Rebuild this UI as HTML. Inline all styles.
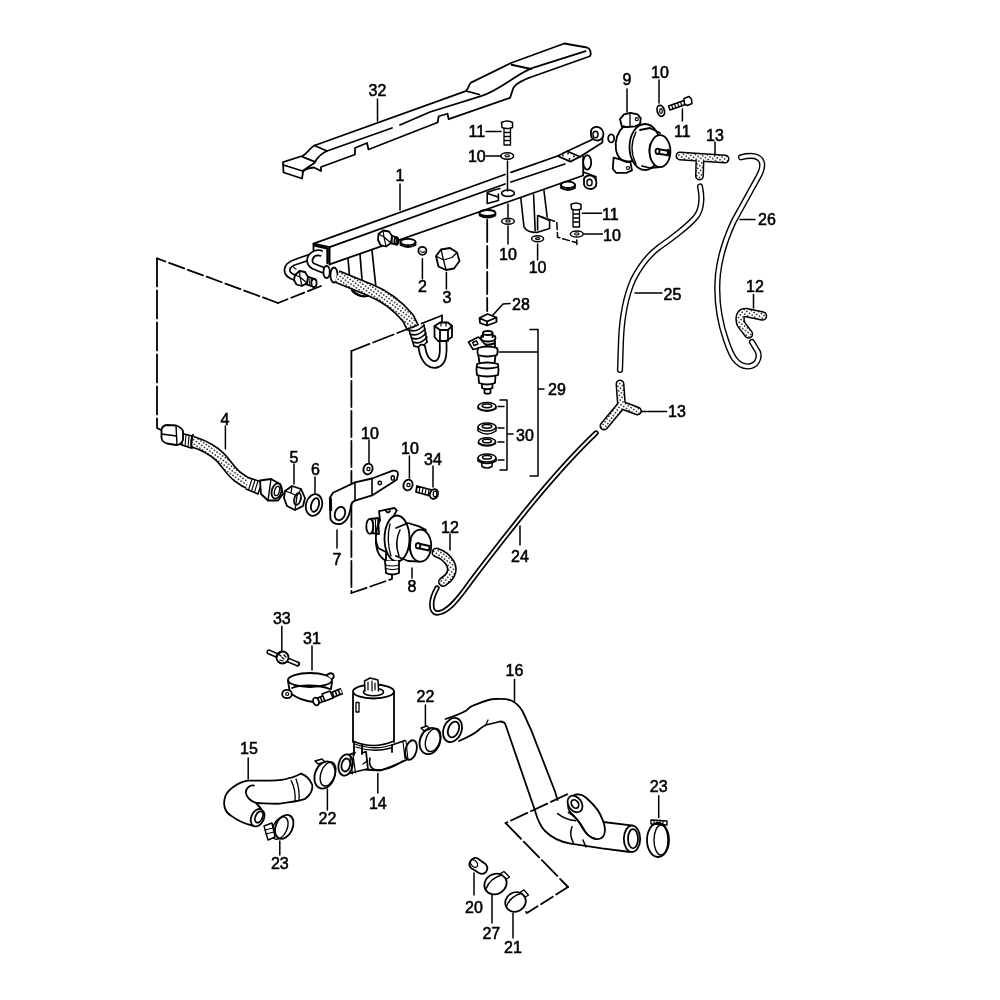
<!DOCTYPE html>
<html><head><meta charset="utf-8"><style>
html,body{margin:0;padding:0;background:#fff;width:1000px;height:1000px;overflow:hidden}
svg{display:block}
</style></head><body>
<svg width="1000" height="1000" viewBox="0 0 1000 1000">
<g fill="none" stroke="#000" stroke-width="1.5" stroke-linejoin="round" stroke-linecap="round">

<line x1="377.5" y1="99" x2="377.5" y2="121"/>
<line x1="400" y1="184" x2="400" y2="210"/>
<line x1="486" y1="131.5" x2="501" y2="131.5"/>
<line x1="486" y1="156" x2="501" y2="156"/>
<line x1="508" y1="204" x2="508" y2="217"/>
<line x1="508" y1="226" x2="508" y2="244"/>
<line x1="537.6" y1="244" x2="537.6" y2="260"/>
<line x1="582.4" y1="213.2" x2="601.6" y2="213.2"/>
<line x1="584" y1="234" x2="602.4" y2="234"/>
<line x1="422.4" y1="258.8" x2="422.4" y2="278.8"/>
<line x1="446.4" y1="272.4" x2="446.4" y2="289"/>
<line x1="627" y1="89" x2="627" y2="112"/>
<line x1="659" y1="80" x2="659" y2="103"/>
<line x1="682.4" y1="109" x2="682.4" y2="121"/>
<line x1="715" y1="142" x2="715" y2="154"/>
<line x1="740" y1="219.5" x2="755" y2="219.5"/>
<line x1="635" y1="293" x2="662" y2="293"/>
<line x1="753.5" y1="294.5" x2="753.5" y2="308"/>
<line x1="225.4" y1="426" x2="225.4" y2="449"/>
<line x1="294" y1="464" x2="294" y2="484"/>
<line x1="315" y1="477" x2="315" y2="493"/>
<line x1="369" y1="440" x2="369" y2="463"/>
<line x1="409.4" y1="456" x2="409.4" y2="478"/>
<line x1="433" y1="466" x2="433" y2="487"/>
<line x1="337" y1="530" x2="337" y2="548"/>
<line x1="412" y1="568" x2="412" y2="578"/>
<line x1="450" y1="534" x2="450" y2="550"/>
<line x1="520" y1="526" x2="520" y2="545"/>
<line x1="281.8" y1="626.6" x2="281.8" y2="650.4"/>
<line x1="312" y1="646" x2="312" y2="670"/>
<line x1="514.5" y1="679.5" x2="514.5" y2="701"/>
<line x1="425.4" y1="705" x2="425.4" y2="726"/>
<line x1="248.2" y1="758" x2="248.2" y2="779"/>
<line x1="377.8" y1="773.6" x2="377.8" y2="793"/>
<line x1="327.4" y1="789" x2="327.4" y2="810"/>
<line x1="658.7" y1="795.7" x2="658.7" y2="817.4"/>
<line x1="279.8" y1="841" x2="279.8" y2="855"/>
<line x1="474" y1="873" x2="474" y2="895"/>
<line x1="492" y1="895" x2="492" y2="923"/>
<line x1="513" y1="913.5" x2="513" y2="938"/>
<line x1="639.5" y1="411.5" x2="666.5" y2="411.5"/>
</g>
<defs>
<pattern id="dots" width="3.3" height="3.3" patternUnits="userSpaceOnUse" patternTransform="rotate(35)">
<rect width="3.3" height="3.3" fill="#fff"/><circle cx="1.65" cy="1.65" r="0.85" fill="#111"/>
</pattern>
</defs>
<g fill="none" stroke="#000" stroke-width="1.8" stroke-linejoin="round" stroke-linecap="round">
<!-- ===== 32 cover ===== -->
<path d="M283,162.2 L302,156 C306,154.5 310,148 314.5,145.5 L465.7,91.1 C469,89 468,85 471,82.6 L511,63 L564.3,43.5 L587,47.5 Q591,49 590.7,54.6 L589.8,56.25 L537,75 C525,79 515,83 513,89 L510,97.9 L448.7,119.2 L447.5,113.75 L438.75,116.25 L437.5,122.5 L368.5,149.5 L367,143 L355,148 L355,154.5 L321,167 L321,171 L314,167.5 C309,168 304,169.5 303,172 L302,178.5 L283.5,172.5 Z"/>
<path d="M283.5,165 L302.5,171 L315,162.5"/>
<path d="M302,156.6 L315,161.8 C318,157 322,153 327,151 L392,128 M400,125 L430,112 L481,96.2 C500,90 515,75 532,68.2 L585.6,51.2"/>
<path d="M314.5,145.5 L327,151 M466.5,91.1 L479.3,94.5 M511.6,64.75 L531,69"/>
<!-- ===== 1 rail ===== -->
<path d="M313.5,243.6 L329.6,247.2 L329.6,264.4 M313.5,243.6 L313.5,254"/>
<path d="M313.5,243.6 L505,174.5 M511,172.4 L557.6,156"/>
<path d="M557.6,156 L567.2,151.2 L580,156.8 L570.4,161.6 Z"/>
<circle cx="563" cy="155.5" r="0.9" fill="#000" stroke="none"/><circle cx="568" cy="153.5" r="0.9" fill="#000" stroke="none"/><circle cx="574" cy="156.5" r="0.9" fill="#000" stroke="none"/><circle cx="569.5" cy="159" r="0.9" fill="#000" stroke="none"/>
<path d="M329.6,247.2 L505,184 M511,182 L564.8,164"/>
<path d="M329.6,264.4 L583.2,175.5 M583.2,156.5 L583.2,175.5"/>
<path d="M327.6,249 L327.6,263" stroke-width="2.6"/>
<path d="M315,245.5 L327,248.3" stroke-width="2.4"/>
<path d="M567.2,151.2 L592.8,139.2 M580,156.8 L602.4,142.4 L602.5,137"/>
<path d="M591,130.5 Q593,126.5 598,127 Q603,128.5 603.5,134 Q603,139.5 598,140.5 Q592.5,140.5 591,136 Z" fill="#fff"/>
<ellipse cx="595.5" cy="134.5" rx="2.6" ry="3.2" stroke-width="1.4"/>
<ellipse cx="587.2" cy="162.4" rx="4" ry="7.2" fill="#fff"/>
<path d="M583.2,172 L596,176.8 L596,186" stroke-width="1.5"/>
<path d="M584,178.5 Q586,175 591,175.5 Q596,177 596.5,183 Q596,188.5 591,189 Q585.5,189 584,184.5 Z" fill="#fff"/>
<ellipse cx="589.5" cy="182.5" rx="2.6" ry="3.2" stroke-width="1.4"/>
<ellipse cx="568" cy="184.8" rx="7" ry="3.2"/><path d="M561,184.8 L561,188 Q568,192 575,188 L575,184.8"/>
<ellipse cx="408" cy="242" rx="7.5" ry="3.2"/><path d="M400.5,242 L400.5,245 Q408,249 415.5,245 L415.5,242"/>
<!-- fitting on rail -->
<path d="M390,235 L397,237.5 L397,244.5 L390,243" fill="#fff"/>
<ellipse cx="396.5" cy="241" rx="2" ry="3.6"/>
<path d="M392,235.5 L392,243.5 M394.5,236.5 L394.5,244" stroke-width="1.1"/>
<path d="M378.5,234 L383,230.5 L389,231.5 L392,236 L391,243 L386,246.5 L380.5,245 L378,240 Z" fill="#fff"/>
<path d="M383,230.5 L384,237 L378.5,234 M384,237 L391,243 M384,237 L386,246.5" stroke-width="1.2"/>
<!-- bracket under rail (left) -->
<path d="M348,258.5 L350,282 M360,254.5 L363,292 M372,250.5 L376,288" stroke-width="1.7"/>
<path d="M352,290 Q360,298 368,296 L370,290"/>
<!-- bracket plates right of center -->
<path d="M487.2,192.4 L487.2,203.6 L498.4,200.4 L498.4,194 M487.2,192.4 L494,190 L500,188.5 M487.5,193.5 L498.2,197" stroke-width="1.6"/>
<path d="M520.8,198 L524,226.8 Q527,232.5 536.8,232.4 L549.6,228.4 L549.6,220.4 M533.6,194.8 L535.2,230.5 M544,190.8 L547.2,217.2 M537.6,215.6 L549.6,220.4 M537.6,215.6 L537.6,230" stroke-width="1.6"/>
<ellipse cx="487.5" cy="213" rx="8" ry="3"/><path d="M479.5,213 L479.5,215.5 Q487.5,220 495.5,215.5 L495.5,213" stroke-width="1.5"/>
<!-- ===== bolts/washers on rail ===== -->
<path d="M502,127.5 L501.5,122.5 Q507,119.5 512.5,122.5 L512.5,127.5 Q507,129.5 502,127.5 Z" stroke-width="1.5"/>
<path d="M504,128.5 L504,145 L510.5,145 L510.5,128.5 M504,132.5 L510.5,132.5 M504,136.5 L510.5,136.5 M504,140.5 L510.5,140.5" stroke-width="1.3"/>
<ellipse cx="507.2" cy="156" rx="6.4" ry="3.2" stroke-width="1.5"/><ellipse cx="507.2" cy="155.8" rx="2.3" ry="1.1" stroke-width="1.1"/>
<path d="M507.5,161 L507.5,191" stroke-width="1.5"/>
<ellipse cx="508" cy="193.2" rx="6.4" ry="3.2" stroke-width="1.6"/>
<ellipse cx="508" cy="221.2" rx="6.4" ry="3" stroke-width="1.5"/><ellipse cx="508" cy="221" rx="2.3" ry="1.1" stroke-width="1.1"/>
<ellipse cx="537.6" cy="238.8" rx="6" ry="3" stroke-width="1.5"/><ellipse cx="537.6" cy="238.6" rx="2.2" ry="1" stroke-width="1.1"/>
<path d="M571.5,209 L571,204.5 Q576,201.5 581,204.5 L581,209 Q576,211 571.5,209 Z" stroke-width="1.5"/>
<path d="M573,210 L573,227 L579.5,227 L579.5,210 M573,214 L579.5,214 M573,218 L579.5,218 M573,222 L579.5,222" stroke-width="1.3"/>
<ellipse cx="576.8" cy="234" rx="6.4" ry="3.1" stroke-width="1.5"/><ellipse cx="576.8" cy="233.8" rx="2.3" ry="1.1" stroke-width="1.1"/>
<path d="M538.4,215.6 L556.8,222 L557.6,237.2 L576.8,242.8 M576.8,240 L576.8,244.5" stroke-dasharray="7 3" stroke-width="1.5"/>
<!-- part 2 & 3 -->
<circle cx="422.4" cy="250.8" r="4"/><path d="M420.5,251 Q422.5,253.5 424.5,251.5" stroke-width="1.1"/>
<path d="M436,256 L441,249.5 L450,248 L457,252.5 L459.5,261 L454,268.5 L446,270 L438.5,266.5 Z"/>
<path d="M436,256 L443.5,260 L452,257.5 L457,252.5 M443.5,260 L446,270 M441,249.5 L443.5,260" stroke-width="1.3"/>
</g>
<g fill="none" stroke="#000" stroke-width="1.8" stroke-linejoin="round" stroke-linecap="round">
<!-- ===== left-end fuel pipes ===== -->
<path d="M313,256 L297,261.5 C285,265 283,274 296,278" stroke-width="7" stroke-linecap="butt"/>
<path d="M313,256 L297,261.5 C285,265 283,274 296,278" stroke="#fff" stroke-width="3.6" stroke-linecap="butt"/>
<path d="M293,266.5 Q294,268 296,269" stroke-width="1.2"/>
<path d="M322,253.5 C311,250 306,262 313,266 L324,270.5" stroke-width="7" stroke-linecap="butt"/>
<path d="M322,253.5 C311,250 306,262 313,266 L324,270.5" stroke="#fff" stroke-width="3.6" stroke-linecap="butt"/>
<path d="M306,276 L315,279 L314,287 L305,284" fill="#fff"/>
<path d="M308,277 L307.5,284.5 M310,277.7 L309.5,285.3 M312,278.4 L311.5,286" stroke-width="1.1"/>
<ellipse cx="314" cy="283" rx="2.6" ry="4" fill="#fff"/>
<path d="M295,275 L299.5,271 L305,272 L308,277 L307,283 L302,286 L296.5,284.5 L294,280 Z" fill="#fff"/>
<path d="M299.5,271 L300,277 L295,275 M300,277 L307,283 M300,277 L302,286" stroke-width="1.2"/>
<ellipse cx="326.6" cy="272" rx="3.2" ry="6" fill="#fff"/>
<path d="M323.4,272 L324,268" stroke-width="1.1"/>
<ellipse cx="334" cy="275" rx="3.6" ry="7.5" fill="#fff"/>
<!-- ===== fuel hose ===== -->
<ellipse cx="360" cy="292" rx="8.5" ry="3.6" transform="rotate(20 360 292)"/>
<path d="M337,276.5 L370,290 C385,296 398,306 408,318 L413,328" stroke-width="13.5" stroke-linecap="butt"/>
<path d="M337,276.5 L370,290 C385,296 398,306 408,318 L413,328" stroke="url(#dots)" stroke-width="10.2" stroke-linecap="butt"/>
<path d="M409,330 Q417,333 424,325 M410,334 Q418,337 425,329 M411.5,338 Q419.5,341 426,333 M413,342 Q421,345 427,337 M414,346 Q421,349 427,342" stroke-width="1.6"/>
<path d="M409,330 L414,346 M424,325 L427,342" stroke-width="1.6"/>
<path d="M422,348 C424,362 432,366 437,364 C442,362 444,357 443,341" stroke-width="8.5"/>
<path d="M422,348 C424,362 432,366 437,364 C442,362 444,357 443,341" stroke="#fff" stroke-width="5"/>
<path d="M434.5,326 L440,322.5 L448,322.5 L452,326 L452,337 L446,341 L438,341 L434.5,337 Z" fill="#fff"/>
<path d="M434.5,326 L440,330 L448,330 L452,326 M440,330 L440,341 M448,330 L448,341"/>
<path d="M441,322 L441,326 M446,322 L446,326" stroke-width="1.2"/>
<!-- ===== dashed lines ===== -->
<path d="M321,286 L278,303" stroke-dasharray="14 4"/>
<path d="M278,303 L157,258.4" stroke-dasharray="16 4"/>
<path d="M157,258.4 L157,428 L161,430" stroke-dasharray="28 4"/>
<path d="M442,315.5 L442,321"/>
<path d="M442,315.5 L351.4,351" stroke-dasharray="22 4"/>
<path d="M351.4,351 L351.4,593" stroke-dasharray="26 4"/>
<path d="M351.4,593 L392,579 L392,572" stroke-dasharray="16 4"/>
<path d="M487.2,220 L487.2,311" stroke-dasharray="22 4"/>
<!-- ===== clip 28 ===== -->
<path d="M479.5,318 L487.5,314 L496.5,317.5 L496.5,322 L487,325.5 L480,323 Z M479.5,318 L487,321.5 L496.5,317.5 M487,321.5 L487,325.5"/>
<path d="M493,315 L503,304 L510,303.5" stroke-width="1.6"/>
<!-- ===== injector 29 ===== -->
<path d="M483,333 L483,337 M492.5,333 L492.5,337"/><ellipse cx="487.7" cy="333" rx="4.8" ry="2" fill="#fff"/>
<path d="M481,338 Q481,341.5 488,341.5 Q495.5,341.5 495.5,338 Q495.5,335.5 492.5,335.5 M483,335.5 Q481,335.5 481,338"/>
<path d="M480.5,341 L480.5,348 M495,341 L495,348"/>
<path d="M482,343.5 Q488,346 494,343.5" stroke-width="2.2"/>
<path d="M468.5,342 L478.5,337 L487,346.5 L473,349.5 Z" fill="#fff" stroke-width="1.6"/>
<path d="M472.5,342.5 L476.5,340.8 L478,344 L474,345.5 Z" stroke-width="1.4"/>
<path d="M478,348 Q477,352 478,355 Q487,358 497,355 Q498.5,351 497,348 Q487,345 478,348 Z" fill="#fff"/>
<path d="M478.5,356 L479.5,363 M495.5,356 L494.5,363"/>
<path d="M477,364 Q476,370 477,375 Q487,378 498,375 Q499,370 498,364 Q487,361 477,364 Z" fill="#fff"/>
<path d="M477,367 Q487,370 498,367"/>
<path d="M478.5,376 L479,383 Q487,386 495,383 L495.5,376"/>
<path d="M482,384 L482,388 Q487,390.5 492.5,388 L492.5,384"/>
<path d="M484.5,389 L484.5,393 Q487.5,394.5 490.5,393 L490.5,389"/>
<!-- brackets 29/30 -->
<path d="M530,329.5 L538,329.5 L538,476 L530,476 M499.5,352 L537.5,352 M538,389 L544,389" stroke-width="1.5"/>
<path d="M500,400 L507,400 L507,470 L500,470 M507,434 L513,434 M498,406.5 L504,406.5 M498,428 L504,428 M498,442 L504,442 M498,460 L504,460" stroke-width="1.5"/>
<!-- rings 30 -->
<g stroke-width="1.5">
<path d="M478,407 L478,408.5 Q487,414 496,408.5 L496,407"/><ellipse cx="487" cy="406.5" rx="9" ry="4" fill="#fff"/><ellipse cx="487" cy="405.8" rx="4.8" ry="1.9"/>
<path d="M478,427 L478,431 Q487,437 496,431 L496,427"/><ellipse cx="487" cy="427" rx="9" ry="4" fill="#fff"/><ellipse cx="487" cy="426.3" rx="4.8" ry="1.9"/>
<path d="M478.5,442 L478.5,443.5 Q487,448.5 495.5,443.5 L495.5,442"/><ellipse cx="487" cy="441.5" rx="8.5" ry="3.8" fill="#fff"/><ellipse cx="487" cy="441" rx="4.5" ry="1.8"/>
<path d="M481.5,462 L482,466.5 Q487,469.5 492,466.5 L492.5,462"/>
<path d="M478,458 L478,461 Q487,466 496,461 L496,458"/><ellipse cx="487" cy="458" rx="9" ry="4" fill="#fff"/><ellipse cx="487" cy="457.3" rx="4.5" ry="1.8"/>
</g>
</g>
<g fill="none" stroke="#000" stroke-width="1.8" stroke-linejoin="round" stroke-linecap="round">
<!-- ===== hose 4 ===== -->
<path d="M192,441.5 C200,444 212,449 220,457 C227,464 231,472 238,477 C243,481 247,483 251,484.5" stroke-width="12" stroke-linecap="butt"/>
<path d="M192,441.5 C200,444 212,449 220,457 C227,464 231,472 238,477 C243,481 247,483 251,484.5" stroke="url(#dots)" stroke-width="8.8" stroke-linecap="butt"/>
<path d="M180,433 L192,436 L191,448 L179,444" fill="#fff" stroke-width="1.5"/>
<path d="M183,434 L182,445 M186,435 L185,446 M189,436 L188,447" stroke-width="1.1"/>
<path d="M193,435 Q190,441 192,448" stroke-width="2"/>
<path d="M161.5,430 Q162,425.5 167,425 L176,425.5 Q181,427 183,431 L183,440 Q181,445 176,445 L167,443.5 Q162,442 161.5,438 Z" fill="#fff"/>
<path d="M176,425.5 L177,445 M161.5,434 L176.5,436" stroke-width="1.4"/>
<path d="M249,478 L262,482 L258,494 L246,489" fill="#fff" stroke-width="1.5"/>
<path d="M252,479 L248.5,490 M255,480 L251.5,491 M258,481 L254.5,492" stroke-width="1.1"/>
<path d="M260,480.5 L271,479 L280,484 L283,494 L278,500.5 L268,500.5 L261,494 Z" fill="#fff"/>
<path d="M271,479 L268,500.5" stroke-width="1.4"/>
<ellipse cx="276.6" cy="491" rx="4.8" ry="7.8" transform="rotate(15 276.6 491)"/>
<ellipse cx="277" cy="491" rx="2.4" ry="4.8" transform="rotate(15 277 491)" stroke-width="1.3"/>
<!-- nut 5, washer 6 -->
<path d="M285,491 L292,486 L301,489 L305,498 L303,506 L295,510 L287,506 L284,498 Z"/>
<path d="M292,486 L291,493 L285,491 M291,493 L297,496 L301,489 M297,496 L295,510" stroke-width="1.3"/>
<ellipse cx="297.5" cy="499" rx="3.2" ry="6" transform="rotate(15 297.5 499)"/>
<ellipse cx="314" cy="505" rx="8" ry="11" transform="rotate(15 314 505)"/>
<ellipse cx="315" cy="505" rx="3.8" ry="7" transform="rotate(15 315 505)"/>
<!-- ===== bracket 7 ===== -->
<path d="M329.8,498 L333,492.8 L355,482.4 L372,478.5 L392.8,470.7 Q398,470 398,474.6 L396.7,479.8 L372,495.4 L355,500.6 Q351.5,502 351.2,505 L350,511 Q348,521 341,524 Q334,525 331,520 L330.4,518.8 Z" fill="#fff"/>
<path d="M355,482.4 L355,500.6 M372,478.5 L372,495.4" stroke-width="1.6"/>
<circle cx="379.8" cy="483" r="1.7" stroke-width="1.4"/><ellipse cx="392.8" cy="477.9" rx="1.6" ry="2.2" stroke-width="1.4"/>
<ellipse cx="340" cy="513.6" rx="5" ry="6.8" transform="rotate(20 340 513.6)"/>
<path d="M330.5,499 L330.8,510" stroke-width="2.8"/>
<!-- washers 10 and bolt 34 -->
<ellipse cx="368" cy="469" rx="4.5" ry="5.5" transform="rotate(20 368 469)"/><circle cx="368.5" cy="469" r="1.6" stroke-width="1.2"/>
<ellipse cx="408" cy="485" rx="4.5" ry="5.5" transform="rotate(20 408 485)"/><circle cx="408.5" cy="485" r="1.6" stroke-width="1.2"/>
<path d="M417,486 L432,490 L431,496 L416,492 Z" fill="#fff"/>
<path d="M420,487 L419,493 M423,488 L422,494 M426,489 L425,495 M429,490 L428,496" stroke-width="1.2"/>
<ellipse cx="434" cy="494" rx="4" ry="5" transform="rotate(20 434 494)" fill="#fff"/><ellipse cx="435" cy="494" rx="1.8" ry="2.8" stroke-width="1.2"/>
<!-- ===== regulator 8 ===== -->
<path d="M370,519 L378,518 L379,534 L371,533" fill="#fff"/>
<ellipse cx="369.8" cy="526.4" rx="3.5" ry="7.5" fill="#fff"/>
<path d="M373,520 L373,533 M375.5,519 L375.5,534" stroke-width="1.1"/>
<path d="M380,520 L379,511.2 L394.4,508 L396.8,510.4 L393.6,516 M386,511 Q388,514 390,511" />
<path d="M380,520 Q375,530 376,544 Q377,556 386,561 L396,562"/>
<path d="M378,548 L386,552 L386,560 M378,548 L376,541"/>
<ellipse cx="397" cy="538.5" rx="12.5" ry="23" fill="#fff"/>
<path d="M390,524 Q386,540 391,556" stroke-width="1.3"/>
<path d="M396,528 L408,523 L419,526.4 L426,530 M396,556 L408,561 L420,561.6"/>
<path d="M400,530 Q394,542 399,556" stroke-width="1.5"/>
<ellipse cx="420.4" cy="545.6" rx="10.8" ry="16" fill="#fff"/>
<path d="M411,540 Q409,548 412,556" stroke-width="1.3"/>
<path d="M418,543.5 L429.5,546 L429,550.5 L417.5,548 Z" fill="#fff"/><ellipse cx="418" cy="545.8" rx="2.3" ry="2.6" fill="#fff"/>
<path d="M385,561 L386,573 Q392,576 399,573 L399,561" fill="#fff"/>
<path d="M386,565 Q392,567 399,565 M386,568.5 Q392,570.5 399,568.5" stroke-width="1.1"/>
<!-- ===== hose 12 lower ===== -->
<path d="M436.5,552.5 C441,554 447,558 450,563 C453,568 452,574 448,578 L443,582" stroke-width="10"/>
<path d="M436.5,552.5 C441,554 447,558 450,563 C453,568 452,574 448,578 L443,582" stroke="url(#dots)" stroke-width="6.8"/>
<!-- ===== hose 24 ===== -->
<path d="M596,433 C572,456 545,487 524,513 C505,537 485,562 466,588 C455,603 446,613 437,613 C430,612 430,600 437,588" stroke-width="5.4"/>
<path d="M596,433 C572,456 545,487 524,513 C505,537 485,562 466,588 C455,603 446,613 437,613 C430,612 430,600 437,588" stroke="#fff" stroke-width="2"/>
<!-- ===== T 13 lower ===== -->
<path d="M620,384 L621.5,405 L637.5,411 M621.5,405 L604,426" stroke-width="9"/>
<path d="M620,384 L621.5,405 L637.5,411 M621.5,405 L604,426" stroke="url(#dots)" stroke-width="6"/>
<!-- ===== hose 25 ===== -->
<path d="M700,186.5 C703,200 701,212 694.6,218.4 C688,226 670,240 659.4,247 C650,254 640,266 633,280 C626,296 622,316 621,340 L620,370" stroke-width="6.2"/>
<path d="M700,186.5 C703,200 701,212 694.6,218.4 C688,226 670,240 659.4,247 C650,254 640,266 633,280 C626,296 622,316 621,340 L620,370" stroke="#fff" stroke-width="3.4"/>
<!-- ===== hose 26 ===== -->
<path d="M741,157.3 C750,155 760,155 762,162.8 C763,168 761,172 758.8,176 L733.6,221.6 C726,238 720,255 718,274 C716,295 719,320 726,340 C731,355 736,366 748,366.5 C757,366 760,358 758,352 L752,342" stroke-width="6.2"/>
<path d="M741,157.3 C750,155 760,155 762,162.8 C763,168 761,172 758.8,176 L733.6,221.6 C726,238 720,255 718,274 C716,295 719,320 726,340 C731,355 736,366 748,366.5 C757,366 760,358 758,352 L752,342" stroke="#fff" stroke-width="3.4"/>
<!-- ===== elbow 12 upper ===== -->
<path d="M762.5,316 L746,312.5 C740,312 739,318 741,324 L748.5,334" stroke-width="9.5"/>
<path d="M762.5,316 L746,312.5 C740,312 739,318 741,324 L748.5,334" stroke="url(#dots)" stroke-width="6.5"/>
<!-- ===== T 13 upper ===== -->
<path d="M680,156 L725,159 M700,158 L699.5,176" stroke-width="9"/>
<path d="M680,156 L725,159 M700,158 L699.5,176" stroke="url(#dots)" stroke-width="6"/>
<!-- ===== regulator 9 ===== -->
<path d="M620,119.2 L624,114.4 L630.4,112.8 L637.6,114.4 L640.8,118.4 L640,124 L635.2,126.4 L628,127 L622,127 Z" fill="#fff"/>
<circle cx="636.8" cy="119.2" r="1.5" stroke-width="1.2"/>
<path d="M630,113 L630,126" stroke-width="1.3"/>
<path d="M613.6,157.6 L612.8,168.8 L616,172.8 L626.4,172.8 L632,170.4 L630.4,162.4 Z" fill="#fff"/>
<circle cx="628" cy="168" r="1.5" stroke-width="1.2"/>
<ellipse cx="611.2" cy="138.4" rx="3" ry="4" fill="#fff"/>
<path d="M624,126 Q614,135 616,150 Q618,160 626,162 L640,160"/>
<ellipse cx="645" cy="147" rx="15.5" ry="23" fill="#fff"/>
<path d="M636,132 Q628,148 636,164" stroke-width="1.3"/>
<path d="M640,130 L650,128 L660,133 M642,166 L650,168 L660,167"/>
<ellipse cx="660" cy="151.2" rx="10.4" ry="16" fill="#fff"/>
<path d="M650,144 Q648,152 651,160" stroke-width="1.3"/>
<path d="M657,149 L669.6,151 L669.6,155.5 L657,153.5 Z" fill="#fff"/><ellipse cx="657.5" cy="151.2" rx="2" ry="2.6" fill="#fff"/>
<path d="M668,150 L668,155" stroke-width="2.4"/>
<ellipse cx="660.8" cy="110.8" rx="3.6" ry="5.6" transform="rotate(-15 660.8 110.8)"/><ellipse cx="661" cy="111" rx="1.3" ry="2.4" stroke-width="1.1"/>
<path d="M668.5,106 L684,100.5 L685.5,104.5 L670,110 Z" fill="#fff" stroke-width="1.5"/>
<path d="M671.5,105 L673,109 M674.5,104 L676,108 M677.5,103 L679,107 M680.5,102 L682,106" stroke-width="1.1"/>
<path d="M684,98.5 L689,96.5 L691.5,99 L692,103.5 L687.5,105.5 L684.5,104 Z" fill="#fff" stroke-width="1.5"/>
</g>
<g fill="none" stroke="#000" stroke-width="1.8" stroke-linejoin="round" stroke-linecap="round">
<!-- ===== 33 screw ===== -->
<path d="M269,652 L297.5,664" stroke-width="5.2" stroke-dasharray="2.2 1"/>
<path d="M269,652 L297.5,664" stroke="#fff" stroke-width="2.2" stroke-dasharray="1.6 1.6"/>
<circle cx="282.5" cy="657.5" r="6" fill="#fff"/>
<path d="M279,654.5 L281,656 M284,655 L286,657 M280,660 L283,661 M282,657.5 L284,659" stroke-width="1.3"/>
<path d="M277,657 Q278,653 282,652" stroke-width="1"/>
<!-- ===== 31 clamp ===== -->
<ellipse cx="310" cy="680" rx="22" ry="7"/>
<path d="M288,681 L290,693 M332,682 L331,689"/>
<path d="M292,688 C300,684.5 318,684.5 330,689"/>
<path d="M290,693 C298,699 308,701.5 314,702"/>
<path d="M327,675 Q330,672 333,674 Q335,677 332,679" fill="#fff"/>
<ellipse cx="287" cy="694" rx="4.8" ry="4.2" fill="#fff"/><circle cx="287.2" cy="694" r="1.5" stroke-width="1.2"/>
<path d="M316,701.5 L342,691" stroke-width="6.8" stroke-linecap="butt"/>
<path d="M316,701.5 L342,691" stroke="#fff" stroke-width="3.6" stroke-dasharray="1.7 1.5" stroke-linecap="butt"/>
<path d="M322,694 L330,691 L333,698 L325,701 Z" fill="#fff" stroke-width="1.5"/>
<ellipse cx="316" cy="701.5" rx="2.8" ry="4" fill="#fff" transform="rotate(-20 316 701.5)"/>
<!-- ===== 14 idle valve ===== -->
<path d="M353,694 L353,742 M394,692 L394,742"/>
<ellipse cx="373.5" cy="691.5" rx="20.5" ry="7" fill="#fff"/>
<ellipse cx="373.5" cy="692" rx="10" ry="3.8" stroke-width="1.5"/>
<path d="M365,691 L364.5,681 L370,678 L378,680 L378.5,691" stroke-width="1.5" fill="#fff"/>
<path d="M368,682 L368,690 M372,681 L372,691 M375,683 L375,690" stroke-width="1.2"/>
<path d="M356,702.5 L359,702.5 L359,712 L356,712 Z" stroke-width="1.3"/>
<path d="M353,741 Q373,750 394,741" stroke-width="1.6"/>
<path d="M355,744 Q373,751 392,745 M356,747 Q373,753 391,748" stroke-width="1.3"/>
<path d="M354,743 L354,755 M362,745 L362,754 M392,745 L392,752"/>
<path d="M344,756.5 L355,752.6 M362,753 L366,751.5 L368,769.5"/>
<path d="M347,774 L365,769.5 L380.5,770.5 Q397,765 414,756"/>
<path d="M392,745 L405,740.5"/>
<path d="M370,758 Q368,768 376,770 Q388,771 403,761" stroke-width="1.6"/>
<path d="M363,764 L367,761" stroke-width="1.3"/>
<ellipse cx="345.6" cy="765" rx="7" ry="10.8" fill="#fff" transform="rotate(12 345.6 765)"/>
<ellipse cx="345.8" cy="765" rx="4.2" ry="6.6" transform="rotate(12 345.8 765)"/>
<path d="M350,755.5 L352.5,774 M353,754.5 L355.5,773" stroke-width="1.2"/>
<ellipse cx="411" cy="750" rx="5.5" ry="10" fill="#fff" transform="rotate(15 411 750)"/>
<path d="M403,742 L405,759 M406,741 L408,760" stroke-width="1.1"/>
<!-- ===== 22 clamps ===== -->
<ellipse cx="430" cy="741" rx="10" ry="13.5" transform="rotate(20 430 741)"/>
<ellipse cx="433" cy="740" rx="7" ry="12" transform="rotate(20 433 740)" stroke-width="1.4"/>
<path d="M421,728 L427,726 L430,729 L424,731 Z" stroke-width="1.4"/>
<ellipse cx="324.8" cy="775" rx="9.8" ry="14" transform="rotate(20 324.8 775)"/>
<ellipse cx="328" cy="774" rx="7" ry="12.5" transform="rotate(20 328 774)" stroke-width="1.4"/>
<path d="M315,761 L322,759 L325,762 L318,764 Z" stroke-width="1.4"/>
<!-- ===== 15 hose ===== -->
<path d="M301,773.6 C305,775 310,779 312.2,784.8 C313,790 310,795 305.2,798.8 C300,801 290,802 280,803.7 C270,804 262,803 256.2,803 C248,800 243,793 247.8,787.6 C250,785 252,785 254,785.5"/>
<path d="M301,773.6 C296,776 292,778 289.8,777.8 C283,781 275,780.6 266,780.6 L247.8,780.6 C238,782 228,790 225.4,796 C222,806 226,813 231,815.6 C238,821 245,824 254,826"/>
<path d="M291.2,780.6 Q296,790 295,801.5 M296,779 Q300,790 299,800.5" stroke-width="1.3"/>
<path d="M256,803 C258,805 260,807 261,809"/>
<ellipse cx="257.6" cy="817.7" rx="6.3" ry="9.1" fill="#fff" transform="rotate(25 257.6 817.7)"/>
<ellipse cx="259" cy="817" rx="3.5" ry="6" transform="rotate(25 259 817)"/>
<!-- ===== 23 clamp left ===== -->
<ellipse cx="284.2" cy="826.8" rx="8.4" ry="12.6" transform="rotate(25 284.2 826.8)"/>
<ellipse cx="280" cy="828" rx="7" ry="12" transform="rotate(25 280 828)" stroke-width="1.4"/>
<path d="M264,826 L272,823 L275,837 L268,840 Z" fill="#fff" stroke-width="1.4"/>
<path d="M265,830 L273,828 M266,834 L274,832" stroke-width="1.1"/>
<!-- ===== 16 hose ===== -->
<path d="M445.5,719 C455,716 462,713 466.4,710.5 C469,708 470,707 472,706 C480,703 488,699 494.4,699 C502,698.5 508,699 511.2,700.5 C517,703 520,707 522.4,711 C526,718 528,724 530.8,729.2 L555.2,792 L557.5,800"/>
<path d="M459,741 C466,738 472,735 476.2,732 C480,729 483,726 486,725 L500,721.5 C503,721.5 505,723 505.6,725 L534.8,810 C537,818 540,826 545,831 C552,838 560,842 570.8,843.6 L602,848.4 L630,852"/>
<path d="M485,726 Q487,723 488,720" stroke-width="1.3"/>
<path d="M603.2,822 L633.2,825.6"/>
<ellipse cx="452.5" cy="730" rx="9" ry="12.5" fill="#fff" transform="rotate(22 452.5 730)"/>
<ellipse cx="453.5" cy="729.5" rx="5.2" ry="8.2" transform="rotate(22 453.5 729.5)"/>
<ellipse cx="632" cy="838.8" rx="8.2" ry="13.2" fill="#fff"/>
<ellipse cx="633" cy="838.8" rx="5" ry="9.6"/>
<path d="M557.6,813.6 Q566,820 575.6,820.8" stroke-width="1.5"/>
<path d="M572,826.8 Q569,835 573.2,842.4 M583,840 Q585,845 586,847" stroke-width="1.5"/>
<path d="M570,800 C572,794 580,792 586.4,798 C592,803 597,808 600,814 C604,822 606,830 604.4,834 C603,838 600,839.5 596,839 C590,838 586,834 583,828 C580,822 576,818 570,812 C567,808 568,803 570,800 Z" fill="#fff"/>
<path d="M568.4,812.4 C574,816 578,820 580,824 C583,830 588,837 594.8,838.8" stroke-width="1.5"/>
<ellipse cx="575" cy="804" rx="6.6" ry="9" fill="#fff" transform="rotate(-35 575 804)"/>
<ellipse cx="575" cy="804" rx="3.3" ry="4.5" transform="rotate(-35 575 804)"/>
<!-- ===== 23 clamp right ===== -->
<ellipse cx="658" cy="840" rx="11" ry="17"/>
<ellipse cx="661" cy="840" rx="7" ry="15" stroke-width="1.4"/>
<path d="M651,820 L667,821 L667,825 L651,824 Z" stroke-width="1.4"/>
<path d="M654,820 L654,824 M657,820 L657,824 M660,820 L660,825 M663,821 L663,825" stroke-width="1"/>
<!-- ===== dashed polygon ===== -->
<path d="M567.2,794.3 L505.6,823" stroke-dasharray="18 4"/><path d="M505.6,823 L568,887" stroke-dasharray="22 4"/><path d="M568,887 L527,913 L523.4,909.4" stroke-dasharray="14 4"/>
<!-- ===== 20, 27, 21 ===== -->
<path d="M470.5,861 Q473,857 477,858 L485.5,864 Q489,868 486,872 Q483,875 479,873 L471,868 Q468,865 470.5,861 Z"/>
<ellipse cx="474" cy="863.5" rx="3" ry="4.2" transform="rotate(-40 474 863.5)" stroke-width="1.3"/>
<ellipse cx="495.5" cy="884" rx="11.5" ry="10" transform="rotate(-30 495.5 884)"/>
<path d="M486,889 Q490,878 502,875 Q506,874.5 507,877" stroke-width="1.4"/>
<path d="M500.5,873.5 L504,871.5 L509.5,877 L506.5,879 Z" stroke-width="1.3" fill="#fff"/>
<ellipse cx="515.5" cy="902" rx="10.5" ry="9.5" transform="rotate(-30 515.5 902)"/>
<path d="M506.5,906.5 Q510,896.5 521,893.5 Q525,893 526,895.5" stroke-width="1.4"/>
<path d="M520.5,892 L524,890 L528.5,895 L525.5,897 Z" stroke-width="1.3" fill="#fff"/>
</g>

<g font-family="Liberation Sans, sans-serif" font-size="16" text-anchor="middle" fill="#000" stroke="#000" stroke-width="0.55" style="filter:grayscale(1)">
<text x="377.5" y="96.2">32</text>
<text x="400" y="180.7">1</text>
<text x="476.8" y="137.3">11</text>
<text x="476.8" y="162.1">10</text>
<text x="508" y="259.7">10</text>
<text x="537.6" y="273.3">10</text>
<text x="610.4" y="219.7">11</text>
<text x="612" y="240.5">10</text>
<text x="422.4" y="291.7">2</text>
<text x="447" y="302.7">3</text>
<text x="627" y="85.3">9</text>
<text x="660" y="78.1">10</text>
<text x="682.4" y="136.7">11</text>
<text x="715" y="140.7">13</text>
<text x="767" y="225.2">26</text>
<text x="672.5" y="300.2">25</text>
<text x="755" y="291.7">12</text>
<text x="521" y="309.7">28</text>
<text x="557" y="394.7">29</text>
<text x="525" y="440.7">30</text>
<text x="677" y="417.2">13</text>
<text x="225" y="424.7">4</text>
<text x="294" y="462.7">5</text>
<text x="315.4" y="474.7">6</text>
<text x="370" y="438.7">10</text>
<text x="410" y="453.7">10</text>
<text x="433" y="464.7">34</text>
<text x="337" y="564.7">7</text>
<text x="412" y="591.7">8</text>
<text x="450" y="532.7">12</text>
<text x="520" y="561.7">24</text>
<text x="281.8" y="623.9">33</text>
<text x="312" y="643.5">31</text>
<text x="514.5" y="675.7">16</text>
<text x="425.4" y="702.3">22</text>
<text x="249" y="754.1">15</text>
<text x="377.8" y="808.7">14</text>
<text x="327.4" y="824.1">22</text>
<text x="658.7" y="792.1">23</text>
<text x="279.8" y="868.9">23</text>
<text x="474" y="912.7">20</text>
<text x="491.3" y="939.3">27</text>
<text x="513" y="953.3">21</text>
</g></svg></body></html>
